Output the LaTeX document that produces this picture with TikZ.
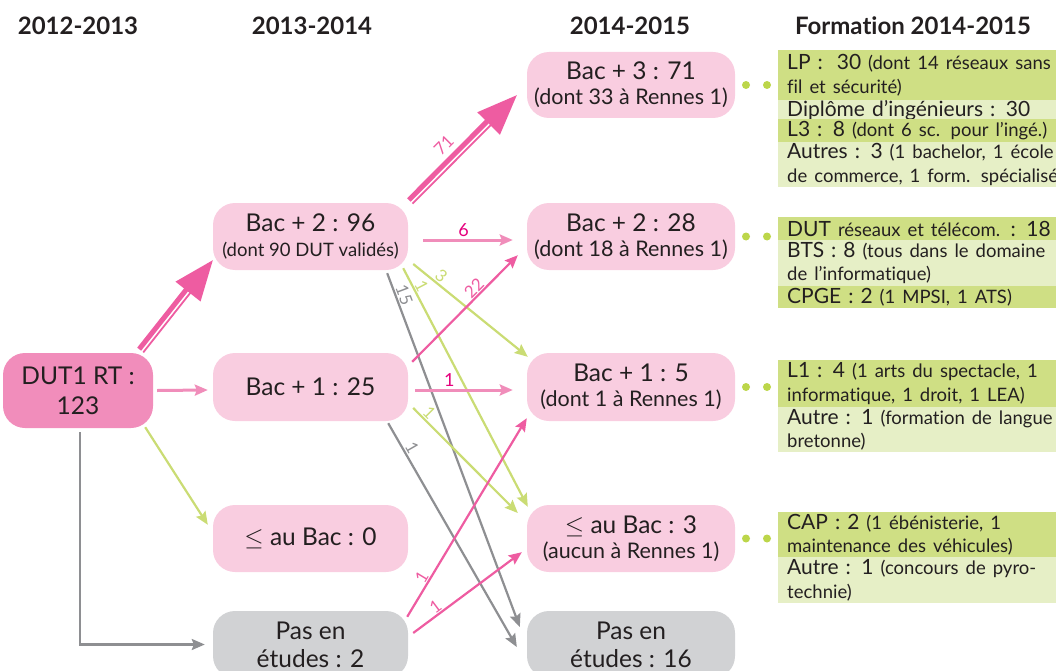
\documentclass[tikz,border=0pt]{standalone}
\usepackage{fontspec}
\setmainfont{Lato}[Ligatures=NoCommon]
\usetikzlibrary{calc,arrows.meta}
\definecolor{txt}{HTML}{231F20}
\definecolor{pkL}{HTML}{F9CDE0}
\definecolor{pkD}{HTML}{F18DBB}
\definecolor{grN}{HTML}{D1D2D4}
\definecolor{gD}{HTML}{CFDF84}
\definecolor{gL}{HTML}{E6EFC6}
\definecolor{dotg}{HTML}{BCD64A}
\definecolor{pkS}{HTML}{EE5CA1}
\definecolor{pkA}{HTML}{F08DBA}
\definecolor{grA}{HTML}{CADC74}
\definecolor{gyA}{HTML}{8E8F92}
\definecolor{mag}{HTML}{E5007D}
\newcommand\fsz[2]{\fontsize{#1}{#2}\selectfont}
\newcommand\sm[1]{{\fsz{18.5}{23.5}#1}}
\newcommand\fatarrow[2]{%
  \coordinate (fhb) at ($(#2)!40pt!(#1)$);
  \coordinate (fhi) at ($(#2)!36pt!(#1)$);
  \fill[pkS] (#2) -- ($(fhb)!16pt!90:(#2)$) -- ($(fhb)!16pt!-90:(#2)$) -- cycle;
  \draw[pkS, line width=5pt] ($(#1)!2.6pt!90:(#2)$) -- ($(fhi)!2.6pt!90:(#2)$);
  \draw[pkS, line width=1.8pt] ($(#1)!2.6pt!-90:(#2)$) -- ($(fhi)!2.6pt!-90:(#2)$);
}
\begin{document}
\begin{tikzpicture}[x=1pt,y=-1pt,
 box/.style={rounded corners=22pt, minimum width=195pt, minimum height=67pt, inner sep=0pt, align=center, text=txt, font=\fsz{24.5}{25}},
 cbox/.style={box, minimum width=208pt},
 head/.style={font=\bfseries\fsz{24}{26}, text=txt, inner sep=0pt},
 row/.style={anchor=north west, inner xsep=9pt, inner ysep=0pt, text width=290pt, align=left, text=txt, font=\fsz{21}{23.5}},
 conn/.style={line width=2.2pt, -{Stealth[length=13pt,width=11pt,inset=2pt]}},
 lab/.style={font=\fsz{17}{18}, inner sep=1pt, sloped, above},
 hlab/.style={font=\fsz{18}{18}, inner sep=2pt, above, text=mag},
 gdot/.style={circle, fill=dotg, minimum size=8pt, inner sep=0pt}
]
\useasboundingbox (0,0) rectangle (1056,671);

% headers
\node[head] (h1) at (78,26) {2012-2013};
\node[head] (h2) at (312,26) {2013-2014};
\node[head] (h3) at (630,26) {2014-2015};
\node[head] (h4) at (913,26) {Formation 2014-2015};

% column 1
\node[box, fill=pkD, minimum width=150pt, minimum height=75pt, font=\fsz{24.5}{30}] (dut) at (78,390.5) {DUT1 RT :\\123};

% column 2
\node[box, fill=pkL] (b2) at (310.5,236.5) {Bac + 2 : 96\\{\fsz{18.5}{22}(dont 90 DUT validés)}};
\node[box, fill=pkL, minimum height=68pt] (b1) at (310.5,387) {Bac + 1 : 25};
\node[box, fill=pkL] (b0) at (310.5,538.5) {$\leq$ au Bac : 0};
\node[box, fill=grN, font=\fsz{24.5}{28}] (p2) at (310.5,644.5) {Pas en\\études : 2};

% column 3
\node[cbox, fill=pkL, minimum height=66pt] (c3) at (631,85) {Bac + 3 : 71\\{\fsz{21.5}{24}(dont 33 à Rennes 1)}};
\node[cbox, fill=pkL] (c2) at (631,236.5) {Bac + 2 : 28\\{\fsz{21.5}{24}(dont 18 à Rennes 1)}};
\node[cbox, fill=pkL, minimum height=68pt] (c1) at (631,387) {Bac + 1 : 5\\{\fsz{21.5}{24}(dont 1 à Rennes 1)}};
\node[cbox, fill=pkL] (c0) at (631,538.5) {$\leq$ au Bac : 3\\{\fsz{21.5}{24}(aucun à Rennes 1)}};
\node[cbox, fill=grN, font=\fsz{24.5}{28}] (c16) at (631,644.5) {Pas en\\études : 16};

% dots
\foreach \n/\y in {3/85, 2/236.5, 1/387, 0/538.5}{
  \node[gdot] (da\n) at (746,\y) {};
  \node[gdot] (db\n) at (767,\y) {};
}

% formation boxes
\node[row, fill=gD, minimum height=50pt] (fa1) at (778,50) {LP :\ \ 30 \sm{(dont 14 réseaux sans}\\\sm{fil et sécurité)}};
\node[row, fill=gL, minimum height=19pt] (fa2) at (778,100) {Diplôme d’ingénieurs : 30};
\node[row, fill=gD, minimum height=23pt] (fa3) at (778,119) {L3 : 8 \sm{(dont 6 sc. pour l’ingé.)}};
\node[row, fill=gL, minimum height=45pt] (fa4) at (778,142) {Autres : 3 \sm{(1 bachelor, 1 école}\\\sm{de commerce, 1 form. spécialisé}};

\node[row, fill=gD, minimum height=23pt] (fb1) at (778,217) {DUT \sm{réseaux et télécom.} : 18};
\node[row, fill=gL, minimum height=46pt] (fb2) at (778,240) {BTS : 8 \sm{(tous dans le domaine}\\\sm{de l’informatique)}};
\node[row, fill=gD, minimum height=22pt] (fb3) at (778,286) {CPGE : 2 \sm{(1 MPSI, 1 ATS)}};

\node[row, fill=gD, minimum height=47pt] (fc1) at (778,360) {L1 : 4 \sm{(1 arts du spectacle, 1}\\\sm{informatique, 1 droit, 1 LEA)}};
\node[row, fill=gL, minimum height=45pt] (fc2) at (778,407) {Autre : 1 \sm{(formation de langue}\\\sm{bretonne)}};

\node[row, fill=gD, minimum height=45pt] (fd1) at (778,512) {CAP : 2 \sm{(1 ébénisterie, 1}\\\sm{maintenance des véhicules)}};
\node[row, fill=gL, minimum height=46pt] (fd2) at (778,557) {Autre : 1 \sm{(concours de pyro-}\\\sm{technie)}};

% fat arrows
\coordinate (a1s) at ([shift={(-12,-2)}]dut.north east);
\coordinate (a1t) at ([shift={(0,-10)}]b2.south west);
\fatarrow{a1s}{a1t}
\coordinate (a2s) at ([shift={(2.5,-1)}]b2.north east);
\coordinate (a2t) at ([shift={(-10,-23)}]c3.south west);
\fatarrow{a2s}{a2t}
\path (a2s) -- node[lab, pos=0.42, text=pkS, above=9pt] {71} (a2t);

% connectors from DUT
\draw[conn, pkA, line width=3pt] ([shift={(4,0)}]dut.east) -- ([shift={(-5,3)}]b1.west);
\draw[conn, grA] ([shift={(-8,-1)}]dut.south east) -- ([shift={(-5,20)}]b0.north west);
\draw[conn, gyA] ([shift={(2,4)}]dut.south) |- ([xshift=-8]p2.west);

% connectors from Bac+2
\draw[conn, pkA, line width=3pt] ([shift={(15,3.5)}]b2.east) -- node[hlab, pos=0.45] {6} ([shift={(-14,3.5)}]c2.west);
\draw[conn, gyA] ([shift={(-21,3)}]b2.south east) -- node[lab, pos=0.07, text=gyA] {15} ([shift={(-7,-17.5)}]c16.west);
\draw[conn, grA] ([shift={(-5,-2)}]b2.south east) -- node[lab, pos=0.09, text=grA] {1} ([shift={(1,2)}]c0.north west);
\draw[conn, grA] ([shift={(5,27.5)}]b2.east) -- node[lab, pos=0.2, text=grA] {3} ([shift={(1,4)}]c1.north west);

% connectors from Bac+1
\draw[conn, pkS] ([shift={(4,9)}]b1.north east) -- node[lab, pos=0.64, text=pkS] {22} ([shift={(-9,-15)}]c2.south west);
\draw[conn, pkA, line width=3pt] ([shift={(7,3)}]b1.east) -- node[hlab, pos=0.35] {1} ([shift={(-14,3)}]c1.west);
\draw[conn, grA] ([shift={(5,21)}]b1.east) -- node[lab, pos=0.1, text=grA] {1} ([shift={(-9,-25.5)}]c0.west);
\draw[conn, gyA] ([shift={(-20,2)}]b1.south east) -- node[lab, pos=0.13, text=gyA] {1} ([shift={(-10,2.5)}]c16.west);

% connectors from Pas en etudes
\draw[conn, pkS] ([shift={(-1,6)}]p2.north east) -- node[lab, pos=0.18, text=pkS] {1} ([shift={(0,-3)}]c1.south west);
\draw[conn, pkS] ([shift={(5,-11.5)}]p2.east) -- node[lab, pos=0.25, text=pkS] {1} ([shift={(-5,-20)}]c0.south west);
\end{tikzpicture}
\end{document}
